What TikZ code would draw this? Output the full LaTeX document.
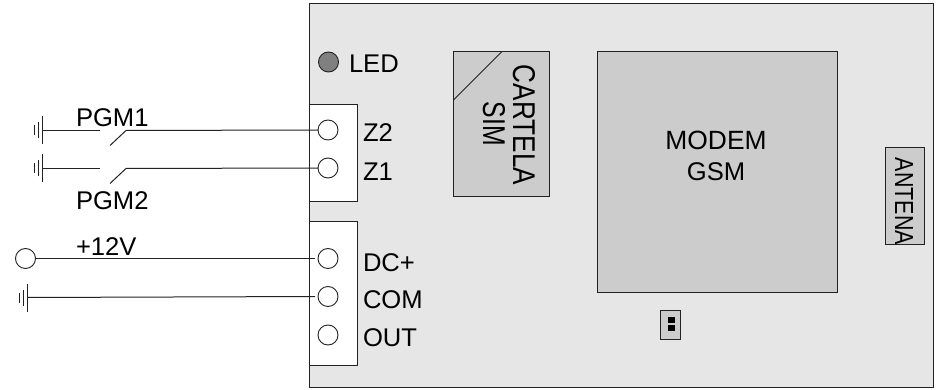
\documentclass[tikz,border=0pt]{standalone}
\usepackage{fontspec}
\usepackage{graphicx}
\setmainfont{Liberation Sans}
\definecolor{boardgray}{HTML}{E6E6E6}
\definecolor{partgray}{HTML}{CCCCCC}
\definecolor{ledgray}{HTML}{808080}
\definecolor{inkline}{HTML}{222222}
\tikzset{
  wire/.style={draw=inkline,line width=1pt},
  boxpart/.style={draw=inkline,line width=1pt,rectangle,inner sep=0pt,outer sep=0pt},
  terminal/.style={draw=inkline,line width=0.9pt,circle,fill=white,minimum size=20pt,inner sep=0pt,outer sep=0pt},
  lab/.style={inner sep=0pt,outer sep=0pt,anchor=base west,font=\fontsize{25.6}{29}\selectfont,text=black},
  rotlab/.style={lab,rotate=-90},
  gndbar/.style={draw=inkline,line width=0.9pt},
}
\begin{document}
\begin{tikzpicture}[x=1pt,y=-1pt]
\useasboundingbox (0,0) rectangle (944,390);
% board
\node[boxpart,fill=boardgray,minimum width=624.5pt,minimum height=383.5pt] (board) at (621.25,195.75) {};
% terminal blocks
\node[boxpart,fill=white,minimum width=48pt,minimum height=96pt] (blockA) at (333,153) {};
\node[boxpart,fill=white,minimum width=48pt,minimum height=144pt] (blockB) at (333,293) {};
\node[terminal] (tZ2) at (328,130) {};
\node[terminal] (tZ1) at (328,168) {};
\node[terminal] (tDC) at (328,258.5) {};
\node[terminal] (tCOM) at (328,296.5) {};
\node[terminal] (tOUT) at (328,335) {};
\node[terminal,fill=ledgray] (led) at (328.5,62) {};
% SIM
\node[boxpart,fill=partgray,minimum width=96pt,minimum height=144pt] (sim) at (501,124) {};
\coordinate (simA) at (453.5,100);
\coordinate (simB) at (501.5,52);
\draw[wire] (simA) -- (simB);
% modem, antenna, jumper
\node[boxpart,fill=partgray,minimum width=240.5pt,minimum height=240pt] (modem) at (717.25,172) {};
\node[boxpart,fill=partgray,minimum width=38.5pt,minimum height=96pt] (antenna) at (904.75,196) {};
\node[boxpart,fill=partgray,minimum width=20pt,minimum height=29pt] (jumper) at (670,324.5) {};
\node[fill=black,minimum size=6.5pt,inner sep=0pt] (pinA) at (671.5,320) {};
\node[fill=black,minimum size=6.5pt,inner sep=0pt] (pinB) at (671.5,328) {};
% grounds and wires
\foreach \n/\x/\y in {g1/42.5/130.5,g2/42.5/168.5,g3/27.5/297.5}{
  \coordinate (\n) at (\x,\y);
  \draw[gndbar] ([yshift=-14pt]\n) -- ([yshift=14pt]\n);
  \draw[gndbar] ([xshift=-4.5pt,yshift=-8pt]\n) -- ([xshift=-4.5pt,yshift=8pt]\n);
  \draw[gndbar] ([xshift=-8.5pt,yshift=-5pt]\n) -- ([xshift=-8.5pt,yshift=5pt]\n);
}
\coordinate (s1a) at (100,130.5);
\coordinate (s1b) at (110,145.5);
\coordinate (s1c) at (126,130.5);
\coordinate (s2a) at (100,168.5);
\coordinate (s2b) at (110,183.5);
\coordinate (s2c) at (126,168.5);
\draw[wire] (g1) -- (s1a);
\draw[wire] (s1b) -- (s1c) -- (tZ2.west);
\draw[wire] (g2) -- (s2a);
\draw[wire] (s2b) -- (s2c) -- (tZ1.west);
\node[terminal] (supply) at (25.5,258.5) {};
\draw[wire,shorten >=3pt] (supply.east) -- (tDC.west);
\draw[wire,shorten >=3pt] (g3) -- (tCOM.west);
% labels
\node[lab] (lPGM1) at (76,127) {PGM1};
\node[lab] (lPGM2) at (76,209) {PGM2};
\node[lab] (l12) at (76,255) {+12V};
\node[lab] (lZ2) at (363,142) {Z2};
\node[lab] (lZ1) at (363,180) {Z1};
\node[lab] (lDC) at (363,271) {DC+};
\node[lab] (lCOM) at (363,308) {COM};
\node[lab] (lOUT) at (363,346) {OUT};
\node[lab] (lLED) at (349,73) {LED};
\node[rotlab,anchor=base west] (lCART) at (513,65) {\resizebox{120pt}{22pt}{CARTELA}};
\node[rotlab,anchor=base west] (lSIM) at (483,102) {\resizebox{44pt}{22pt}{SIM}};
\node[lab,anchor=base,font=\fontsize{26.4}{29}\selectfont] (lMOD) at (716,150) {MODEM};
\node[lab,anchor=base] (lGSM) at (716,180) {GSM};
\node[rotlab,anchor=base west] (lANT) at (895,158) {\resizebox{87pt}{18pt}{ANTENA}};
\end{tikzpicture}
\end{document}
